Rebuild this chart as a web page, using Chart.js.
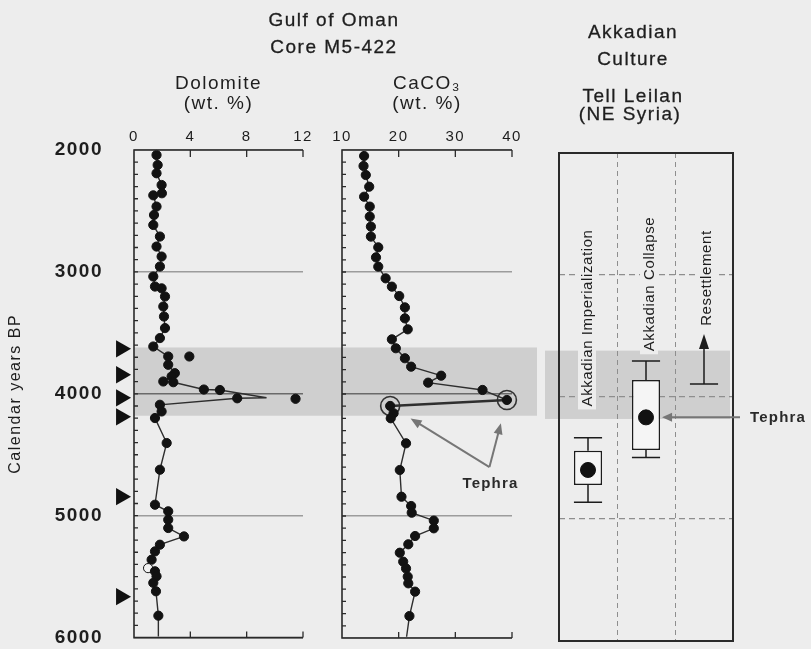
<!DOCTYPE html>
<html>
<head>
<meta charset="utf-8">
<script src="https://cdn.jsdelivr.net/npm/chart.js@4.4.1/dist/chart.umd.min.js"></script>
<style>
  html, body { margin: 0; padding: 0; background: #ededed; overflow: hidden; }
  #page { position: relative; width: 811px; height: 649px; overflow: hidden; background: #ededed;
          font-family: "Liberation Sans", Arial, sans-serif; color: #1e1e1e; }
  #page canvas { position: absolute; top: 0; }
  .hd { position: absolute; font-size: 19px; letter-spacing: 1.5px; line-height: 20px; white-space: nowrap;
        transform: translateX(-50%); text-align: center; -webkit-text-stroke: 0.3px #1e1e1e; }
</style>
</head>
<body>
<div id="page">
  <canvas id="dol" width="540" height="649" style="left:0px"></canvas>
  <canvas id="cac" width="235" height="649" style="left:305px"></canvas>
  <canvas id="akk" width="271" height="649" style="left:540px"></canvas>
  <div class="hd" style="left:334px;top:10px">Gulf of Oman</div>
  <div class="hd" style="left:334px;top:37px">Core M5-422</div>
  <div class="hd" style="left:633px;top:22px">Akkadian</div>
  <div class="hd" style="left:633px;top:49px">Culture</div>
  <div class="hd" style="left:633px;top:86px">Tell Leilan</div>
  <div class="hd" style="left:630px;top:104px">(NE Syria)</div>
</div>
<script>
// ---- Age axis (calendar years BP), shared by every panel ----
const yearMin = 2000;
const yearMax = 6000;
const yearTicks = [2000, 3000, 4000, 5000, 6000];

// ---- Dolomite (wt. %) down core ----
const dolTicks = [0, 4, 8, 12];
const dolYears = [2041, 2123, 2191, 2287, 2355, 2372, 2464, 2533, 2615, 2710, 2792, 2874, 2956,
                  3038, 3120, 3135, 3202, 3284, 3366, 3461, 3543, 3612, 3694, 3762, 3831, 3858,
                  3899, 3905, 3965, 3969, 4037, 4090, 4145, 4199, 4404, 4623, 4910, 4964, 5033,
                  5101, 5170, 5238, 5293, 5361, 5430, 5456, 5497, 5551, 5620, 5820];
const dolValues = [1.60, 1.68, 1.60, 1.96, 1.98, 1.37, 1.60, 1.42, 1.37, 1.84, 1.60, 1.96, 1.84,
                   1.37, 1.49, 1.96, 2.20, 2.08, 2.13, 2.20, 1.84, 1.37, 2.43, 2.43, 2.90, 2.67,
                   2.08, 2.79, 4.96, 6.10, 7.33, 1.84, 1.96, 1.49, 2.32, 1.84, 1.49, 2.43, 2.43,
                   2.43, 3.55, 1.84, 1.49, 1.25, 1.00, 1.49, 1.60, 1.37, 1.56, 1.73];
// trace vertices without a sample marker (peak apex, base of the core)
const dolTraceYears = [4032, 5990];
const dolTraceValues = [9.41, 1.73];
// samples plotted off the trace
const dolOffYears = [3694, 4041];
const dolOffValues = [3.93, 11.47];
// sample drawn as an open symbol
const dolHollowYears = [5430];

// ---- CaCO3 (wt. %) down core ----
const cacTicks = [10, 20, 30, 40];
const cacYears = [2049, 2131, 2205, 2301, 2383, 2464, 2546, 2628, 2710, 2798, 2880, 2956, 3052,
                  3120, 3197, 3290, 3380, 3470, 3552, 3625, 3707, 3776, 3850, 3907, 3967, 4049,
                  4098, 4158, 4199, 4404, 4623, 4842, 4918, 4973, 5038, 5101, 5164, 5232, 5301,
                  5374, 5430, 5497, 5552, 5620, 5820];
const cacValues = [13.9, 13.8, 14.2, 14.8, 13.9, 14.9, 14.9, 15.1, 15.1, 16.4, 16.0, 16.4, 17.7,
                   18.8, 20.1, 21.1, 21.1, 21.6, 18.8, 19.5, 21.1, 22.2, 27.5, 25.2, 34.8, 39.1,
                   18.5, 19.1, 18.6, 21.3, 20.2, 20.5, 22.2, 22.3, 26.2, 26.2, 22.9, 21.7, 20.2,
                   20.8, 21.3, 21.6, 21.7, 22.9, 21.9];
const cacTraceYears = [5990];
const cacTraceValues = [21.4];
// tephra-bearing samples
const tephraYears = [4049, 4098];

// ---- radiocarbon-dated levels (triangles on the age axis) ----
const datedYears = [3631, 3844, 4033, 4189, 4844, 5664];

// ---- shaded interval ----
const bandYears = [3620, 4180];

// ---- Tell Leilan phases ----
const phases = ['Akkadian Imperialization', 'Akkadian Collapse', 'Resettlement'];
const boxTop = [4440, 3861, null];
const boxBottom = [4721, 4434, null];
const whiskerTop = [4333, 3705, null];
const whiskerBottom = [4863, 4495, null];
const centralAge = [4598, 4167, null];
const resettleFrom = 3893;
const resettleTo = 3484;
const leilanTephraAge = 4167;

// ---------------------------------------------------------------
const FONT = '"Liberation Sans", Arial, sans-serif';
Chart.defaults.font.family = FONT;
Chart.defaults.color = '#1e1e1e';
Chart.defaults.animation = false;
Chart.defaults.responsive = false;
Chart.defaults.maintainAspectRatio = false;
Chart.defaults.events = [];
Chart.defaults.layout.autoPadding = false;
Chart.defaults.plugins.legend.display = false;
Chart.defaults.plugins.tooltip.enabled = false;

const INK = '#1c1c1c';
const BG = '#ededed';
const BAND = '#cfcfcf';

// printed type is set slightly loose
const loose = {
  id: 'loose',
  beforeUpdate(c) { c.ctx.letterSpacing = '1.5px'; },
  beforeDraw(c) { c.ctx.letterSpacing = '1.5px'; }
};

// shaded interval behind the panels
const ageBand = {
  id: 'ageBand',
  beforeDraw(c, args, o) {
    const ys = c.scales.y, a = c.chartArea, ctx = c.ctx;
    const y0 = ys.getPixelForValue(bandYears[0]);
    const y1 = ys.getPixelForValue(bandYears[1]);
    const x0 = a.left + (o.left || 0);
    const x1 = o.toEdge != null ? c.width - o.toEdge : a.right + (o.right || 0);
    ctx.save();
    ctx.fillStyle = BAND;
    ctx.fillRect(x0, y0, x1 - x0, y1 - y0);
    ctx.restore();
  }
};

// open-sided frame with inward ticks for the core panels
const coreFrame = {
  id: 'coreFrame',
  afterDatasetsDraw(c) {
    const {ctx, chartArea: a} = c;
    const xs = c.scales.x, ys = c.scales.y;
    ctx.save();
    ctx.strokeStyle = '#2a2a2a';
    ctx.lineWidth = 1.6;
    ctx.beginPath();
    ctx.moveTo(a.right, a.top); ctx.lineTo(a.left, a.top);
    ctx.lineTo(a.left, a.bottom); ctx.lineTo(a.right, a.bottom);
    ctx.stroke();
    ctx.lineWidth = 1.3;
    ctx.beginPath();
    xs.ticks.forEach(t => {
      const px = xs.getPixelForValue(t.value);
      if (px < a.left + 2) return;
      ctx.moveTo(px, a.top); ctx.lineTo(px, a.top + 7);
      ctx.moveTo(px, a.bottom); ctx.lineTo(px, a.bottom - 6);
    });
    for (let yr = yearMin + 100; yr < yearMax; yr += 100) {
      const py = ys.getPixelForValue(yr);
      ctx.moveTo(a.left, py); ctx.lineTo(a.left + 4, py);
    }
    ctx.stroke();
    ctx.restore();
  }
};

function arrowHead(ctx, x, y, angle, len, half) {
  ctx.save();
  ctx.translate(x, y);
  ctx.rotate(angle);
  ctx.beginPath();
  ctx.moveTo(0, 0);
  ctx.lineTo(-len, -half);
  ctx.lineTo(-len, half);
  ctx.closePath();
  ctx.fill();
  ctx.restore();
}

function trace(years, values, lineYears, lineValues) {
  const pts = years.map((y, i) => ({x: values[i], y: y, sample: true}))
    .concat(lineYears.map((y, i) => ({x: lineValues[i], y: y, sample: false})));
  pts.sort((p, q) => p.y - q.y);
  return pts;
}

function yearScale(labelled) {
  return {
    type: 'linear', position: 'left', reverse: true, min: yearMin, max: yearMax,
    afterBuildTicks: s => { s.ticks = yearTicks.map(v => ({value: v})); },
    ticks: { display: labelled, font: {size: 19, weight: 'bold'}, color: '#1e1e1e', padding: 0,
             callback: v => String(v) },
    grid: { drawTicks: labelled, tickLength: 31, tickColor: 'rgba(0,0,0,0)', lineWidth: 1.4,
            color: ctx => ctx.tick && ctx.tick.value === 4000 ? '#6a6a6a' : '#9c9c9c' },
    border: { display: false },
    title: { display: labelled, text: 'Calendar years BP', font: {size: 16}, color: '#1e1e1e',
             padding: {top: 6, bottom: 0} },
    afterFit: s => { s.width = labelled ? 134 : 0; }
  };
}

function topScale(min, max, ticks, title) {
  return {
    type: 'linear', position: 'top', min: min, max: max,
    afterBuildTicks: s => { s.ticks = ticks.map(v => ({value: v})); },
    ticks: { font: {size: 15}, color: '#1e1e1e', padding: 4, maxRotation: 0, autoSkip: false },
    grid: { display: false, drawTicks: false },
    border: { display: false },
    title: { display: true, text: title, font: {size: 19, lineHeight: 1.05}, color: '#1e1e1e',
             padding: {top: 4, bottom: 0} },
    afterFit: s => { s.height = 80; }
  };
}

// ---- Dolomite panel (carries the age axis) ----
const DATE_MARK_X = -0.92;   // triangles sit just left of the frame
new Chart(document.getElementById('dol'), {
  type: 'scatter',
  data: {
    datasets: [
      {
        data: trace(dolYears, dolValues, dolTraceYears, dolTraceValues),
        showLine: true, borderColor: '#2e2e2e', borderWidth: 1.4,
        pointRadius: ctx => ctx.raw && ctx.raw.sample ? 4.6 : 0,
        pointBackgroundColor: ctx => ctx.raw && dolHollowYears.includes(ctx.raw.y) ? '#f2f2f2' : '#121212',
        pointBorderColor: '#121212', pointBorderWidth: 1, clip: false, order: 0
      },
      {
        data: dolOffYears.map((y, i) => ({x: dolOffValues[i], y: y})),
        showLine: false, pointRadius: 4.6, pointBackgroundColor: '#121212',
        pointBorderColor: '#121212', clip: false, order: 1
      },
      {
        // indexed on the age axis; the clear border widens the drawing margin so the
        // markers just outside the frame are still painted
        indexAxis: 'y',
        data: datedYears.map(y => ({x: DATE_MARK_X, y: y})),
        showLine: false, pointStyle: 'triangle', rotation: 90, pointRadius: 10,
        pointBackgroundColor: '#111', pointBorderColor: 'rgba(0,0,0,0)', pointBorderWidth: 8,
        clip: false, order: 2
      }
    ]
  },
  options: {
    layout: { autoPadding: false, padding: {left: 0, right: 237, top: 70, bottom: 11} },
    scales: {
      x: topScale(0, 12, dolTicks, ['Dolomite', '(wt. %)']),
      y: yearScale(true)
    },
    plugins: { ageBand: {left: 0, toEdge: 3} }
  },
  plugins: [loose, ageBand, coreFrame]
});

// ---- CaCO3 panel ----
const tephraNote = {
  id: 'tephraNote',
  afterDatasetsDraw(c) {
    const xs = c.scales.x, ys = c.scales.y, ctx = c.ctx;
    const lx = xs.getPixelForValue(36.2), ly = ys.getPixelForValue(4738);
    const ox = lx - 1, oy = ly - 17;
    ctx.save();
    ctx.strokeStyle = '#767676'; ctx.fillStyle = '#767676'; ctx.lineWidth = 2;
    tephraYears.forEach(yr => {
      const v = cacValues[cacYears.indexOf(yr)];
      const cx = xs.getPixelForValue(v), cy = ys.getPixelForValue(yr);
      const dx = cx - ox, dy = cy - oy, d = Math.hypot(dx, dy);
      const tx = cx - dx / d * 24, ty = cy - dy / d * 24;
      const ang = Math.atan2(ty - oy, tx - ox);
      ctx.beginPath();
      ctx.moveTo(ox, oy);
      ctx.lineTo(tx - Math.cos(ang) * 8, ty - Math.sin(ang) * 8);
      ctx.stroke();
      arrowHead(ctx, tx, ty, ang, 11, 4.5);
    });
    ctx.fillStyle = '#2a2a2a';
    ctx.font = 'bold 15px ' + FONT;
    ctx.letterSpacing = '1.2px';
    ctx.textAlign = 'center';
    ctx.textBaseline = 'middle';
    ctx.fillText('Tephra', lx, ly);
    ctx.restore();
  }
};

new Chart(document.getElementById('cac'), {
  type: 'scatter',
  data: {
    datasets: [
      {
        data: trace(cacYears, cacValues, cacTraceYears, cacTraceValues),
        showLine: true, borderColor: '#2e2e2e', borderWidth: 1.4,
        segment: {
          borderWidth: s => tephraYears.includes(s.p0.parsed.y) && tephraYears.includes(s.p1.parsed.y) ? 2.6 : 1.4
        },
        pointRadius: ctx => ctx.raw && ctx.raw.sample ? 4.6 : 0,
        pointBackgroundColor: '#121212', pointBorderColor: '#121212', pointBorderWidth: 1,
        clip: false, order: 0
      },
      {
        data: tephraYears.map(y => ({x: cacValues[cacYears.indexOf(y)], y: y})),
        showLine: false, pointRadius: 9.5, pointBackgroundColor: 'rgba(0,0,0,0)',
        pointBorderColor: '#333', pointBorderWidth: 1.6, clip: false, order: 1
      }
    ]
  },
  options: {
    layout: { autoPadding: false, padding: {left: 37, right: 28, top: 70, bottom: 11} },
    scales: {
      x: topScale(10, 40, cacTicks, ['CaCO\u2083', '(wt. %)']),
      y: yearScale(false)
    }
  },
  plugins: [loose, coreFrame, tephraNote]
});

// ---- Tell Leilan chronology panel ----
const leilanMarks = {
  id: 'leilanMarks',
  afterDatasetsDraw(c) {
    const ctx = c.ctx, xs = c.scales.x, ys = c.scales.y, a = c.chartArea;
    const bars = c.getDatasetMeta(1).data;
    const half = bars[0].width / 2;
    ctx.save();
    // whiskers
    ctx.strokeStyle = INK; ctx.lineWidth = 1.5;
    ctx.beginPath();
    phases.forEach((p, i) => {
      if (whiskerTop[i] == null) return;
      const cx = xs.getPixelForValue(i);
      const wt = ys.getPixelForValue(whiskerTop[i]), bt = ys.getPixelForValue(boxTop[i]);
      const wb = ys.getPixelForValue(whiskerBottom[i]), bb = ys.getPixelForValue(boxBottom[i]);
      ctx.moveTo(cx, wt); ctx.lineTo(cx, bt);
      ctx.moveTo(cx - half, wt); ctx.lineTo(cx + half, wt);
      ctx.moveTo(cx, bb); ctx.lineTo(cx, wb);
      ctx.moveTo(cx - half, wb); ctx.lineTo(cx + half, wb);
    });
    // resettlement arrow
    const rx = xs.getPixelForValue(2);
    const r0 = ys.getPixelForValue(resettleFrom), r1 = ys.getPixelForValue(resettleTo);
    ctx.moveTo(rx - half, r0); ctx.lineTo(rx + half, r0);
    ctx.moveTo(rx, r0); ctx.lineTo(rx, r1 + 12);
    ctx.stroke();
    ctx.fillStyle = INK;
    arrowHead(ctx, rx, r1, -Math.PI / 2, 15, 5);

    // frame
    ctx.lineWidth = 2;
    ctx.strokeStyle = '#2a2a2a';
    ctx.strokeRect(a.left, a.top, a.right - a.left, a.bottom - a.top);

    // phase names, set vertically
    const labelAges = [3352, 3074, 3025];
    const labelShift = [-1, 3, 2];
    ctx.font = '15px ' + FONT;
    ctx.letterSpacing = '0.6px';
    ctx.textAlign = 'center';
    ctx.textBaseline = 'middle';
    phases.forEach((p, i) => {
      const x = xs.getPixelForValue(i) + labelShift[i];
      const y = ys.getPixelForValue(labelAges[i]);
      const w = ctx.measureText(p).width;
      ctx.save();
      ctx.translate(x, y);
      ctx.rotate(-Math.PI / 2);
      ctx.fillStyle = BG;
      ctx.fillRect(-w / 2 - 3, -9, w + 6, 18);
      ctx.fillStyle = '#1e1e1e';
      ctx.fillText(p, 0, 1);
      ctx.restore();
    });

    // tephra pointer
    const ty = ys.getPixelForValue(leilanTephraAge);
    const tipX = bars[1].x + half + 2;
    ctx.strokeStyle = '#767676'; ctx.fillStyle = '#767676'; ctx.lineWidth = 2;
    ctx.beginPath();
    ctx.moveTo(a.right + 7, ty); ctx.lineTo(tipX + 8, ty);
    ctx.stroke();
    arrowHead(ctx, tipX, ty, Math.PI, 10, 4.5);
    ctx.fillStyle = '#2a2a2a';
    ctx.font = 'bold 15px ' + FONT;
    ctx.letterSpacing = '1.2px';
    ctx.textAlign = 'left';
    ctx.fillText('Tephra', a.right + 17, ty);
    ctx.restore();
  }
};

new Chart(document.getElementById('akk'), {
  type: 'bar',
  data: {
    labels: phases,
    datasets: [
      {
        type: 'line', data: centralAge, showLine: false, pointRadius: 7.5,
        pointBackgroundColor: '#111', pointBorderColor: '#111', order: 0
      },
      {
        type: 'bar',
        data: phases.map((p, i) => boxTop[i] == null ? null : [boxTop[i], boxBottom[i]]),
        backgroundColor: '#f5f5f5', borderColor: INK, borderWidth: 1.5, borderSkipped: false,
        barPercentage: 0.5, categoryPercentage: 0.97, order: 1
      }
    ]
  },
  options: {
    layout: { autoPadding: false, padding: {left: 19, right: 78, top: 153, bottom: 8} },
    scales: {
      x: {
        type: 'category', position: 'bottom', offset: true,
        ticks: { display: false },
        grid: { offset: true, drawTicks: false, color: '#8e8e8e', lineWidth: 1 },
        border: { display: false, dash: [5, 4] },
        afterFit: s => { s.height = 0; }
      },
      y: {
        type: 'linear', reverse: true, min: yearMin, max: yearMax,
        afterBuildTicks: s => { s.ticks = yearTicks.map(v => ({value: v})); },
        ticks: { display: false },
        grid: { drawTicks: false, color: '#8e8e8e', lineWidth: 1.2 },
        border: { display: false, dash: [6, 4] },
        afterFit: s => { s.width = 0; }
      }
    },
    plugins: { ageBand: {left: -14, right: -3} }
  },
  plugins: [loose, ageBand, leilanMarks]
});
</script>
</body>
</html>
